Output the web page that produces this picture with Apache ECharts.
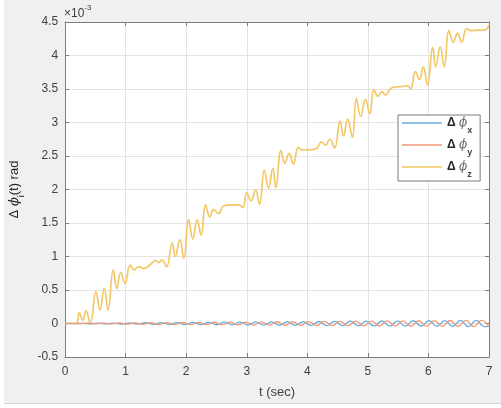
<!DOCTYPE html>
<html>
<head>
<meta charset="utf-8">
<script src="https://cdn.jsdelivr.net/npm/echarts@6/dist/echarts.min.js"></script>
<style>
  html, body { margin: 0; padding: 0; background: #ffffff; }
  #frame { position: absolute; left: 4px; top: 0; width: 497px; height: 403px; background: #f0f0f0; border-bottom: 1px solid #d4d4d4; }
  #chart { position: absolute; left: 0; top: 0; width: 501px; height: 408px; }
</style>
</head>
<body>
<div id="frame"></div>
<div id="chart"></div>
<script>
// Angle error components, in units of 1e-3 rad, as [t (sec), value] samples.
const phiX = [
  [0, 0], [0.03, 0.001], [0.16, -0.003], [0.29, 0.003], [0.42, -0.004], [0.55, 0.005],
  [0.68, -0.006], [0.81, 0.007], [0.94, -0.008], [1.07, 0.009], [1.20, -0.010],
  [1.33, 0.011], [1.46, -0.012], [1.59, 0.013], [1.72, -0.013], [1.85, 0.014],
  [1.98, -0.015], [2.11, 0.016], [2.24, -0.017], [2.37, 0.018], [2.50, -0.019],
  [2.63, 0.020], [2.76, -0.020], [2.89, 0.021], [3.02, -0.022], [3.15, 0.023],
  [3.28, -0.024], [3.41, 0.025], [3.54, -0.026], [3.67, 0.027], [3.80, -0.027],
  [3.93, 0.028], [4.06, -0.029], [4.19, 0.030], [4.32, -0.031], [4.45, 0.032],
  [4.58, -0.033], [4.71, 0.034], [4.84, -0.034], [4.97, 0.035], [5.10, -0.036],
  [5.23, 0.037], [5.36, -0.038], [5.49, 0.039], [5.62, -0.040], [5.75, 0.041],
  [5.88, -0.041], [6.01, 0.042], [6.14, -0.043], [6.27, 0.044], [6.40, -0.045],
  [6.53, 0.046], [6.66, -0.047], [6.79, 0.048], [6.92, -0.048], [7.00, -0.035]
];

const phiY = [
  [0, 0], [0.12, 0.003], [0.25, -0.003], [0.38, 0.004], [0.51, -0.005], [0.64, 0.006],
  [0.77, -0.007], [0.90, 0.008], [1.03, -0.009], [1.16, 0.010], [1.29, -0.011],
  [1.42, 0.012], [1.55, -0.013], [1.68, 0.013], [1.81, -0.014], [1.94, 0.015],
  [2.07, -0.016], [2.20, 0.017], [2.33, -0.018], [2.46, 0.019], [2.59, -0.020],
  [2.72, 0.020], [2.85, -0.021], [2.98, 0.022], [3.11, -0.023], [3.24, 0.024],
  [3.37, -0.025], [3.50, 0.026], [3.63, -0.027], [3.76, 0.027], [3.89, -0.028],
  [4.02, 0.029], [4.15, -0.030], [4.28, 0.031], [4.41, -0.032], [4.54, 0.033],
  [4.67, -0.034], [4.80, 0.034], [4.93, -0.035], [5.06, 0.036], [5.19, -0.037],
  [5.32, 0.038], [5.45, -0.039], [5.58, 0.040], [5.71, -0.041], [5.84, 0.041],
  [5.97, -0.042], [6.10, 0.043], [6.23, -0.044], [6.36, 0.045], [6.49, -0.046],
  [6.62, 0.047], [6.75, -0.048], [6.88, 0.048], [7.00, -0.045]
];

const phiZ = [
  [0, 0], [0.18, 0], [0.235, 0.16], [0.29, 0.05], [0.345, 0.19], [0.415, 0.0],
  [0.51, 0.475], [0.575, 0.2], [0.646, 0.525], [0.71, 0.2], [0.795, 0.8],
  [0.855, 0.525], [0.92, 0.76], [0.99, 0.6], [1.075, 0.87], [1.14, 0.8],
  [1.22, 0.85], [1.30, 0.82], [1.41, 0.88], [1.495, 0.94], [1.55, 0.91],
  [1.60, 0.95], [1.675, 0.85], [1.77, 1.2], [1.82, 1.0], [1.895, 1.25],
  [1.96, 0.97], [2.04, 1.55], [2.11, 1.26], [2.18, 1.55], [2.245, 1.32],
  [2.32, 1.77], [2.39, 1.59], [2.45, 1.70], [2.535, 1.64], [2.61, 1.75],
  [2.73, 1.77], [2.865, 1.77], [2.935, 1.73], [3.0, 1.95], [3.07, 1.83],
  [3.145, 1.99], [3.21, 1.78], [3.29, 2.29], [3.36, 2.02], [3.43, 2.32],
  [3.48, 2.03], [3.565, 2.58], [3.63, 2.39], [3.70, 2.54], [3.77, 2.38],
  [3.85, 2.63], [3.905, 2.59], [4.015, 2.59], [4.15, 2.61], [4.235, 2.71],
  [4.30, 2.66], [4.37, 2.75], [4.45, 2.62], [4.54, 3.02], [4.60, 2.8],
  [4.665, 3.05], [4.745, 2.78], [4.81, 3.36], [4.88, 3.09], [4.96, 3.34],
  [5.03, 3.13], [5.10, 3.49], [5.165, 3.39], [5.235, 3.46], [5.29, 3.41],
  [5.38, 3.51], [5.47, 3.53], [5.575, 3.54], [5.66, 3.55], [5.705, 3.5],
  [5.785, 3.76], [5.85, 3.64], [5.915, 3.83], [5.985, 3.56], [6.07, 4.12],
  [6.12, 3.83], [6.195, 4.13], [6.26, 3.83], [6.34, 4.37], [6.41, 4.20],
  [6.48, 4.33], [6.55, 4.20], [6.63, 4.40], [6.70, 4.37], [6.835, 4.38],
  [6.93, 4.38], [7.0, 4.46]
];

const seriesNames = ['phi_x', 'phi_y', 'phi_z'];
const seriesSubs = ['x', 'y', 'z'];
const seriesColors = ['#6aaede', '#ef9a78', '#f3c867'];

const xTicks = { min: 0, max: 7, interval: 1 };
const yTicks = { min: -0.5, max: 4.5, interval: 0.5 };

const FONT = 'Liberation Sans, Arial, Helvetica, sans-serif';
const AXIS_COLOR = '#7d7d7d';
const TEXT_COLOR = '#404040';
const GRID_COLOR = '#e3e3e3';

const chart = echarts.init(document.getElementById('chart'), null, { renderer: 'canvas' });

function mainAxisX(extra) {
  return Object.assign({
    type: 'value', min: xTicks.min, max: xTicks.max, interval: xTicks.interval,
    axisLine: { show: true, onZero: false, lineStyle: { color: AXIS_COLOR, width: 1 } },
    axisTick: { show: true, inside: true, length: 4, lineStyle: { color: AXIS_COLOR } },
    splitLine: { show: false }
  }, extra);
}
function mainAxisY(extra) {
  return Object.assign({
    type: 'value', min: yTicks.min, max: yTicks.max, interval: yTicks.interval,
    axisLine: { show: true, onZero: false, lineStyle: { color: AXIS_COLOR, width: 1 } },
    axisTick: { show: true, inside: true, length: 4, lineStyle: { color: AXIS_COLOR } },
    splitLine: { show: false }
  }, extra);
}

const legendRich = {
  d: { fontFamily: FONT, fontSize: 12, fontWeight: 'bold', color: '#262626', lineHeight: 18, verticalAlign: 'middle' },
  p: { fontFamily: 'DejaVu Serif, serif', fontStyle: 'italic', fontSize: 12, color: '#6a6a6a', lineHeight: 18, verticalAlign: 'middle' },
  s: { fontFamily: FONT, fontSize: 9, fontWeight: 'bold', color: '#444444', lineHeight: 18, verticalAlign: 'bottom', padding: [0, 0, -3, 0] }
};

chart.setOption({
  backgroundColor: 'transparent',
  animation: false,
  grid: { left: 64, right: 12, top: 22, bottom: 51, show: true, backgroundColor: '#ffffff', borderWidth: 0 },
  xAxis: [
    mainAxisX({
      position: 'bottom',
      name: 't (sec)', nameLocation: 'middle', nameGap: 29,
      nameTextStyle: { fontFamily: FONT, fontSize: 13, color: TEXT_COLOR },
      axisLabel: { show: true, margin: 9, fontFamily: FONT, fontSize: 12, color: TEXT_COLOR },
      splitLine: { show: true, lineStyle: { color: GRID_COLOR, width: 1 } }
    }),
    mainAxisX({ position: 'top', axisLabel: { show: false } })
  ],
  yAxis: [
    mainAxisY({
      position: 'left',
      name: '{d|Δ }{p|ϕ}{s|i}{t|(t) rad}', nameLocation: 'middle', nameGap: 38, nameRotate: 90,
      nameTextStyle: {
        rich: {
          d: { fontFamily: FONT, fontSize: 13, color: '#262626', lineHeight: 18, verticalAlign: 'middle' },
          p: { fontFamily: 'DejaVu Serif, serif', fontStyle: 'italic', fontSize: 13, color: '#262626', lineHeight: 18, verticalAlign: 'middle' },
          s: { fontFamily: FONT, fontSize: 9, color: '#262626', lineHeight: 18, verticalAlign: 'bottom', padding: [0, 0, -3, 0] },
          t: { fontFamily: FONT, fontSize: 13, color: '#262626', lineHeight: 18, verticalAlign: 'middle' }
        }
      },
      axisLabel: { show: true, margin: 7, fontFamily: FONT, fontSize: 12, color: TEXT_COLOR },
      splitLine: { show: true, lineStyle: { color: GRID_COLOR, width: 1 } }
    }),
    mainAxisY({ position: 'right', axisLabel: { show: false } })
  ],
  legend: {
    orient: 'vertical',
    left: 398, top: 115,
    padding: [2, 8, 2, 4],
    itemGap: 4,
    icon: 'rect',
    itemWidth: 40, itemHeight: 1.5,
    backgroundColor: '#ffffff',
    borderColor: '#7a7a7a', borderWidth: 1,
    data: seriesNames,
    formatter: function (name) {
      const i = seriesNames.indexOf(name);
      return '{d|Δ} {p|ϕ}{s|' + seriesSubs[i] + '}';
    },
    textStyle: { rich: legendRich }
  },
  graphic: [
    {
      type: 'text', left: 64, top: 4,
      style: {
        text: '{a|×10}{b|-3}',
        rich: {
          a: { fontFamily: FONT, fontSize: 12, fill: TEXT_COLOR, lineHeight: 16, verticalAlign: 'bottom' },
          b: { fontFamily: FONT, fontSize: 8, fill: TEXT_COLOR, lineHeight: 16, verticalAlign: 'top' }
        }
      }
    }
  ],
  series: [phiX, phiY, phiZ].map(function (data, i) {
    return {
      name: seriesNames[i],
      type: 'line',
      xAxisIndex: 0, yAxisIndex: 0,
      data: data,
      symbol: 'none',
      smooth: 0.45,
      lineStyle: { color: seriesColors[i], width: i === 2 ? 1.7 : 1.3 },
      itemStyle: { color: seriesColors[i] },
      z: 3 + (i === 2 ? 0 : 1)
    };
  })
});
</script>
</body>
</html>
